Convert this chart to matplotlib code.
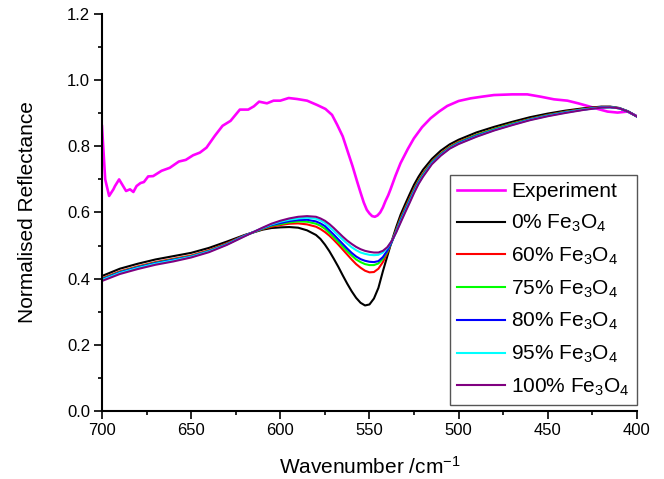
import matplotlib
matplotlib.use("Agg")
import matplotlib.pyplot as plt
from matplotlib.ticker import MultipleLocator, FormatStrFormatter

plt.rcParams['font.family'] = ['Liberation Sans', 'DejaVu Sans']
plt.rcParams['mathtext.fontset'] = 'custom'
plt.rcParams['mathtext.rm'] = 'Liberation Sans'
plt.rcParams['mathtext.it'] = 'Liberation Sans:italic'

exp_wn = [700, 698.2, 696, 693.6, 692.7, 690.4, 686.5, 684.3, 682.4, 680.6, 678.4,
          676.5, 674.1, 671.3, 666.6, 662, 656.9, 653, 648.9, 645.1, 641.4,
          636.7, 632.4, 627.9, 622.7, 618, 614.8, 611.9, 607.5, 603.8, 600,
          595.3, 590.6, 585, 579.4, 574.7, 571, 568.1, 565, 562.5, 559.5,
          556.9, 555, 553.2, 551.5, 550, 548.5, 547, 545.5, 544, 542.5,
          541, 539.5, 538.2, 535.5, 532.6, 528.5, 525.1, 520.5, 515.7, 511,
          506.4, 500, 493.3, 487, 480.2, 470, 461.5, 454, 446.5, 439,
          433, 427.7, 422, 416.5, 410.9, 405.3, 399.6]
experiment = [0.861, 0.700, 0.650, 0.670, 0.680, 0.700, 0.665, 0.670, 0.662, 0.680, 0.689,
              0.692, 0.709, 0.710, 0.726, 0.735, 0.754, 0.759, 0.773, 0.781, 0.796,
              0.832, 0.862, 0.877, 0.911, 0.911, 0.921, 0.935, 0.930, 0.938, 0.938,
              0.946, 0.943, 0.938, 0.925, 0.913, 0.895, 0.865, 0.830, 0.789, 0.740,
              0.693, 0.660, 0.630, 0.608, 0.597, 0.589, 0.587, 0.591, 0.600, 0.615,
              0.635, 0.652, 0.670, 0.710, 0.749, 0.792, 0.824, 0.858, 0.885, 0.905,
              0.922, 0.937, 0.945, 0.950, 0.955, 0.957, 0.957, 0.950, 0.942, 0.938,
              0.930, 0.922, 0.913, 0.905, 0.902, 0.905, 0.890]

# simulated spectra, common wavenumber grid
wn = [700, 690, 680, 670, 660, 650, 640, 630, 620, 610,
      605, 600, 595, 590, 585, 580, 577.5, 575, 572.5, 570,
      567.5, 565, 562.5, 560, 557.5, 555, 552.5, 550, 547.5, 545,
      542.5, 540, 537.5, 535, 532.5, 530, 527.5, 525, 522.5, 520,
      515, 510, 505, 500, 490, 480, 470, 460, 450, 440,
      430, 420, 415, 410, 405, 400]

fe0 = [.408, .430, .445, .458, .468, .478, .493, .512, .532, .548,
       .553, .555, .556, .554, .546, .532, .520, .503, .483, .460,
       .436, .410, .385, .362, .342, .327, .319, .322, .340, .372,
       .422, .468, .514, .556, .594, .625, .655, .684, .708, .729,
       .762, .787, .806, .820, .842, .859, .874, .888, .899, .908,
       .915, .920, .920, .916, .906, .890]
fe60 = [.401, .422, .437, .450, .460, .470, .486, .507, .531, .550,
        .557, .562, .566, .567, .564, .557, .550, .541, .530, .517,
        .503, .488, .473, .458, .444, .433, .424, .419, .420, .430,
        .450, .478, .512, .548, .584, .614, .643, .672, .697, .718,
        .754, .779, .799, .814, .835, .853, .869, .883, .895, .905,
        .913, .919, .919, .915, .905, .890]
fe75 = [.399, .420, .435, .448, .458, .468, .484, .505, .530, .551,
        .560, .565, .570, .573, .572, .566, .560, .551, .538, .525,
        .511, .497, .483, .470, .458, .450, .444, .441, .441, .446,
        .460, .482, .511, .545, .580, .610, .639, .668, .694, .715,
        .752, .777, .797, .812, .834, .852, .868, .882, .894, .904,
        .912, .918, .919, .915, .905, .890]
fe80 = [.398, .419, .434, .447, .457, .467, .483, .504, .530, .552,
        .562, .568, .574, .577, .578, .573, .567, .559, .546, .533,
        .519, .505, .491, .478, .467, .459, .454, .451, .450, .453,
        .465, .485, .511, .543, .577, .607, .636, .665, .691, .712,
        .750, .775, .795, .810, .832, .850, .866, .881, .893, .903,
        .911, .918, .918, .915, .905, .890]
fe95 = [.396, .417, .432, .445, .455, .466, .482, .503, .529, .553,
        .564, .572, .578, .582, .584, .581, .576, .568, .556, .544,
        .531, .518, .506, .495, .486, .479, .475, .472, .471, .472,
        .479, .493, .514, .541, .573, .603, .632, .662, .688, .710,
        .748, .773, .794, .808, .830, .849, .865, .880, .892, .902,
        .911, .917, .918, .915, .905, .890]
fe100 = [.393, .414, .429, .442, .452, .464, .480, .502, .528, .554,
         .566, .575, .582, .587, .589, .587, .582, .575, .565, .553,
         .540, .527, .515, .505, .496, .489, .484, .481, .479, .479,
         .484, .495, .514, .540, .570, .600, .629, .659, .686, .708,
         .746, .772, .793, .807, .829, .848, .864, .879, .891, .901,
         .910, .917, .918, .915, .905, .890]

models = [fe0, fe60, fe75, fe80, fe95, fe100]
percents = ['0%', '60%', '75%', '80%', '95%', '100%']
colors = ['black', '#ff0000', '#00ff00', '#0000ff', '#00ffff', '#800080']

fig = plt.figure(figsize=(6.64, 4.79), dpi=100)
ax = fig.add_axes([0.1536, 0.1420, 0.8057, 0.8288])

ax.plot(exp_wn, experiment, color='#ff00ff', lw=1.9, label='Experiment')
for vals, pc, c in zip(models, percents, colors):
    ax.plot(wn, vals, color=c, lw=1.5,
            label=pc + r' Fe$_{\mathregular{3}}$O$_{\mathregular{4}}$')

ax.set_xlim(700, 400)
ax.set_ylim(0, 1.2)
ax.xaxis.set_major_locator(MultipleLocator(50))
ax.xaxis.set_minor_locator(MultipleLocator(25))
ax.yaxis.set_major_locator(MultipleLocator(0.2))
ax.yaxis.set_minor_locator(MultipleLocator(0.1))
ax.yaxis.set_major_formatter(FormatStrFormatter('%.1f'))

for s in ['top', 'right']:
    ax.spines[s].set_visible(False)
for s in ['left', 'bottom']:
    ax.spines[s].set_linewidth(1.5)
ax.tick_params(which='major', direction='out', length=5.5, width=1.2, labelsize=12, pad=3)
ax.tick_params(which='minor', direction='out', length=3, width=1.2)

ax.set_xlabel(r'Wavenumber /cm$^{\mathregular{-1}}$', fontsize=15, labelpad=13)
ax.set_ylabel('Normalised Reflectance', fontsize=15, labelpad=22)

leg = ax.legend(loc='lower right', bbox_to_anchor=(1.0, 0.0144), borderaxespad=0,
                fontsize=15, handlelength=2.3, handletextpad=0.3, labelspacing=0.55,
                borderpad=0.35, fancybox=False, framealpha=1)
leg.get_frame().set_edgecolor('#555555')
leg.get_frame().set_linewidth(1.0)

fig.savefig('out.png', dpi=100)
